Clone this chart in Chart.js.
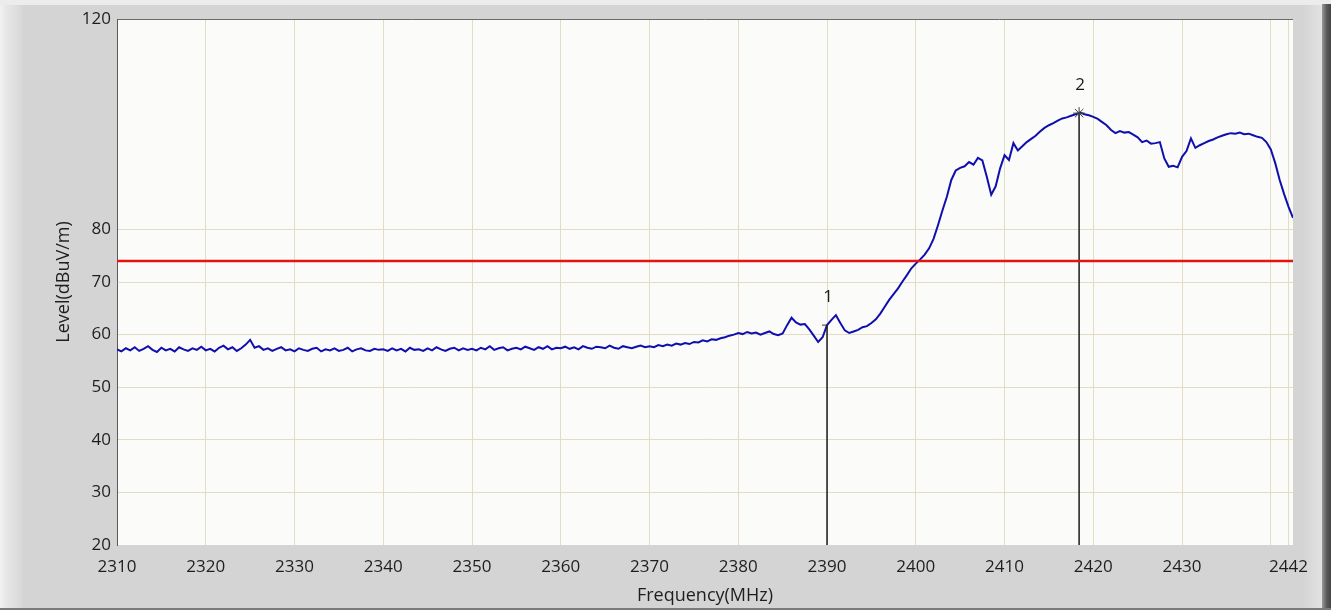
<!DOCTYPE html>
<html>
<head>
<meta charset="utf-8">
<script src="https://cdn.jsdelivr.net/npm/chart.js@4"></script>
<style>
  html, body { margin: 0; padding: 0; background: #d4d4d4; }
  #wrap { width: 1331px; height: 610px; position: relative; }
</style>
</head>
<body>
<div id="wrap"><canvas id="myChart"></canvas></div>
<script>
// sweep: 2310 MHz to 2442 MHz, one reading every 0.5 MHz
const freqStart = 2310;
const freqStep = 0.5;

// levels in dBuV/m
const levels = [
  // 2310 - 2319.5
  57.2, 56.8, 57.4, 57.0, 57.6, 56.9, 57.3, 57.8, 57.1, 56.7, 57.5, 57.0, 57.3, 56.8, 57.6, 57.2, 56.9, 57.4, 57.1, 57.7,
  // 2320 - 2329.5
  57.0, 57.3, 56.8, 57.5, 57.9, 57.2, 57.6, 56.9, 57.4, 58.1, 59.0, 57.5, 57.8, 57.1, 57.4, 56.9, 57.3, 57.6, 57.0, 57.2,
  // 2330 - 2339.5
  56.8, 57.4, 57.1, 56.9, 57.3, 57.5, 56.8, 57.2, 57.0, 57.4, 56.9, 57.1, 57.5, 56.8, 57.2, 57.4, 57.0, 56.9, 57.3, 57.1,
  // 2340 - 2349.5
  57.2, 56.9, 57.4, 57.0, 57.3, 56.8, 57.5, 57.1, 57.2, 56.9, 57.4, 57.0, 57.6, 57.2, 56.9, 57.3, 57.5, 57.0, 57.4, 57.1,
  // 2350 - 2359.5
  57.3, 57.0, 57.5, 57.2, 57.8, 57.1, 57.4, 57.6, 57.0, 57.3, 57.5, 57.2, 57.7, 57.4, 57.1, 57.6, 57.3, 57.8, 57.2, 57.5,
  // 2360 - 2369.5
  57.4, 57.7, 57.3, 57.6, 57.2, 57.8, 57.5, 57.3, 57.7, 57.6, 57.4, 57.9, 57.5, 57.3, 57.8, 57.6, 57.4, 57.7, 57.9, 57.6,
  // 2370 - 2379.5
  57.8, 57.6, 58.0, 57.8, 58.1, 57.9, 58.3, 58.1, 58.4, 58.2, 58.6, 58.5, 58.9, 58.7, 59.1, 59.0, 59.3, 59.5, 59.8, 60.0,
  // 2380 - 2389.5
  60.3, 60.1, 60.5, 60.2, 60.4, 60.0, 60.3, 60.6, 60.1, 59.9, 60.2, 61.8, 63.2, 62.3, 61.9, 62.0, 61.0, 59.8, 58.6, 59.5,
  // 2390 - 2399.5
  61.8, 62.8, 63.7, 62.2, 60.8, 60.3, 60.6, 60.9, 61.4, 61.6, 62.2, 62.9, 64.0, 65.3, 66.6, 67.7, 68.8, 70.1, 71.3, 72.6,
  // 2400 - 2409.5
  73.5, 74.3, 75.2, 76.4, 78.2, 80.8, 83.6, 86.2, 89.4, 91.2, 91.7, 92.0, 92.8, 92.3, 93.6, 93.1, 90.0, 86.6, 88.2, 91.6,
  // 2410 - 2419.5
  94.1, 93.2, 96.4, 95.0, 95.8, 96.6, 97.2, 97.8, 98.6, 99.3, 99.8, 100.2, 100.7, 101.1, 101.3, 101.6, 101.9, 102.2, 101.9, 101.7,
  // 2420 - 2429.5
  101.4, 101.0, 100.4, 99.8, 98.9, 98.3, 98.7, 98.4, 98.5, 98.0, 97.5, 96.6, 96.9, 96.3, 96.4, 96.6, 93.5, 91.9, 92.1, 91.8,
  // 2430 - 2439.5
  93.8, 94.9, 97.3, 95.5, 96.0, 96.4, 96.8, 97.1, 97.5, 97.8, 98.1, 98.3, 98.2, 98.4, 98.1, 98.2, 97.9, 97.6, 97.4, 96.6,
  // 2440 - 2442
  95.2, 92.6, 89.4, 86.7, 84.3, 82.2
];

// limit line
const limitLevel = 74;

// markers
const markerNames = ["1", "2"];
const markerFreqs = [2390, 2418.4];
const markerLevels = [61.8, 102.1];

// axis ticks
const xTicks = [2310, 2320, 2330, 2340, 2350, 2360, 2370, 2380, 2390, 2400, 2410, 2420, 2430, 2440, 2442];
const xHidden = [2440];
const yTicks = [20, 30, 40, 50, 60, 70, 80, 120];

const fontName = "'Open Sans', 'DejaVu Sans', sans-serif";

// pairs for the trace
const trace = levels.map((v, i) => ({ x: freqStart + i * freqStep, y: v }));
const xMin = freqStart;
const xMax = freqStart + (levels.length - 1) * freqStep;

// panel background + frame
const panelBg = {
  id: "panelBg",
  beforeDraw(chart) {
    const { ctx, width, height, chartArea } = chart;
    ctx.save();
    ctx.fillStyle = "#d4d4d4";
    ctx.fillRect(0, 0, width, height);
    // light edge left and top
    let g = ctx.createLinearGradient(0, 0, 22, 0);
    g.addColorStop(0, "#f2f2f2");
    g.addColorStop(0.3, "#e6e6e6");
    g.addColorStop(1, "#d8d8d8");
    ctx.fillStyle = g;
    ctx.fillRect(0, 0, 22, height);
    ctx.fillStyle = "#ececec";
    ctx.fillRect(0, 0, width, 5);
    // right side: lighter strip then dark edge
    g = ctx.createLinearGradient(width - 28, 0, width - 9, 0);
    g.addColorStop(0, "#d4d4d4");
    g.addColorStop(1, "#e2e2e2");
    ctx.fillStyle = g;
    ctx.fillRect(width - 28, 5, 19, height - 5);
    g = ctx.createLinearGradient(width - 9, 0, width, 0);
    g.addColorStop(0, "#9a9a9a");
    g.addColorStop(0.5, "#5c5c5c");
    g.addColorStop(1, "#454545");
    ctx.fillStyle = g;
    ctx.fillRect(width - 9, 4, 9, height - 4);
    ctx.fillStyle = "#7a7a7a";
    ctx.fillRect(0, height - 2, width, 2);
    // plot area
    ctx.fillStyle = "#fbfbf9";
    ctx.fillRect(chartArea.left, chartArea.top, chartArea.right - chartArea.left, chartArea.bottom - chartArea.top);
    ctx.restore();
  }
};

// marker numbers above the marker points
const markerText = {
  id: "markerText",
  afterDatasetsDraw(chart) {
    const { ctx, scales } = chart;
    ctx.save();
    ctx.fillStyle = "#1a1a1a";
    ctx.font = "17px " + fontName;
    ctx.textAlign = "center";
    ctx.textBaseline = "middle";
    markerNames.forEach((n, i) => {
      const px = scales.x.getPixelForValue(markerFreqs[i]);
      const py = scales.y.getPixelForValue(markerLevels[i]);
      ctx.fillText(n, px + 1, py - 28);
    });
    ctx.restore();
  }
};

const datasets = [
  {
    label: "Limit",
    data: [{ x: xMin, y: limitLevel }, { x: xMax, y: limitLevel }],
    borderColor: "#e31414",
    borderWidth: 2.5,
    pointRadius: 0
  },
  {
    label: "Marker 1",
    data: [{ x: markerFreqs[0], y: 20 }, { x: markerFreqs[0], y: markerLevels[0] }],
    borderColor: "#1a1a1a",
    borderWidth: 1.5,
    pointRadius: [0, 5],
    pointStyle: "dash",
    rotation: 180,
    pointBorderColor: "#333",
    pointBorderWidth: 1
  },
  {
    label: "Marker 2",
    data: [{ x: markerFreqs[1], y: 20 }, { x: markerFreqs[1], y: markerLevels[1] }],
    borderColor: "#1a1a1a",
    borderWidth: 1.5,
    pointRadius: [0, 6],
    pointStyle: "star",
    pointBorderColor: "#444",
    pointBorderWidth: 1
  },
  {
    label: "Level",
    data: trace,
    borderColor: "#0f0fb0",
    borderWidth: 2,
    pointRadius: 0,
    tension: 0
  }
];

const config = {
  type: "line",
  data: { datasets },
  plugins: [panelBg, markerText],
  options: {
    responsive: true,
    maintainAspectRatio: false,
    animation: false,
    layout: { padding: { left: 0, top: 19, right: 38, bottom: 0 } },
    plugins: { legend: { display: false }, tooltip: { enabled: false } },
    scales: {
      x: {
        type: "linear",
        min: xMin,
        max: xMax,
        afterBuildTicks: (s) => { s.ticks = xTicks.map(v => ({ value: v })); },
        afterFit: (s) => { s.height = 65; },
        ticks: {
          color: "#1e1e1e",
          font: { family: fontName, size: 17 },
          padding: 12,
          maxRotation: 0,
          autoSkip: false,
          callback: (v) => xHidden.includes(v) ? "" : String(v)
        },
        grid: {
          drawTicks: false,
          color: (c) => c.tick && c.tick.value === xMax ? "rgba(0,0,0,0)" : "#e2ddc2",
          lineWidth: 1
        },
        border: { display: false },
        title: {
          display: true,
          text: "Frequency(MHz)",
          color: "#1e1e1e",
          font: { family: fontName, size: 18 },
          padding: { top: 0, bottom: 3 }
        }
      },
      y: {
        min: 20,
        max: 120,
        afterBuildTicks: (s) => { s.ticks = yTicks.map(v => ({ value: v })); },
        afterFit: (s) => { s.width = 117; },
        ticks: {
          color: "#1e1e1e",
          font: { family: fontName, size: 17 },
          padding: 6,
          autoSkip: false
        },
        grid: {
          drawTicks: false,
          color: (c) => {
            if (!c.tick) return "#e2ddc2";
            if (c.tick.value === 120) return "#6a6a6a";
            if (c.tick.value === 20) return "rgba(0,0,0,0)";
            return "#e2ddc2";
          },
          lineWidth: 1
        },
        border: { color: "#5a5a5a", width: 1 },
        title: {
          display: true,
          text: "Level(dBuV/m)",
          color: "#1e1e1e",
          font: { family: fontName, size: 18 },
          padding: { top: 53, bottom: 0 }
        }
      }
    }
  }
};

const chartDOM = document.getElementById("myChart");
const myLineChart = new Chart(chartDOM, config);
</script>
</body>
</html>
